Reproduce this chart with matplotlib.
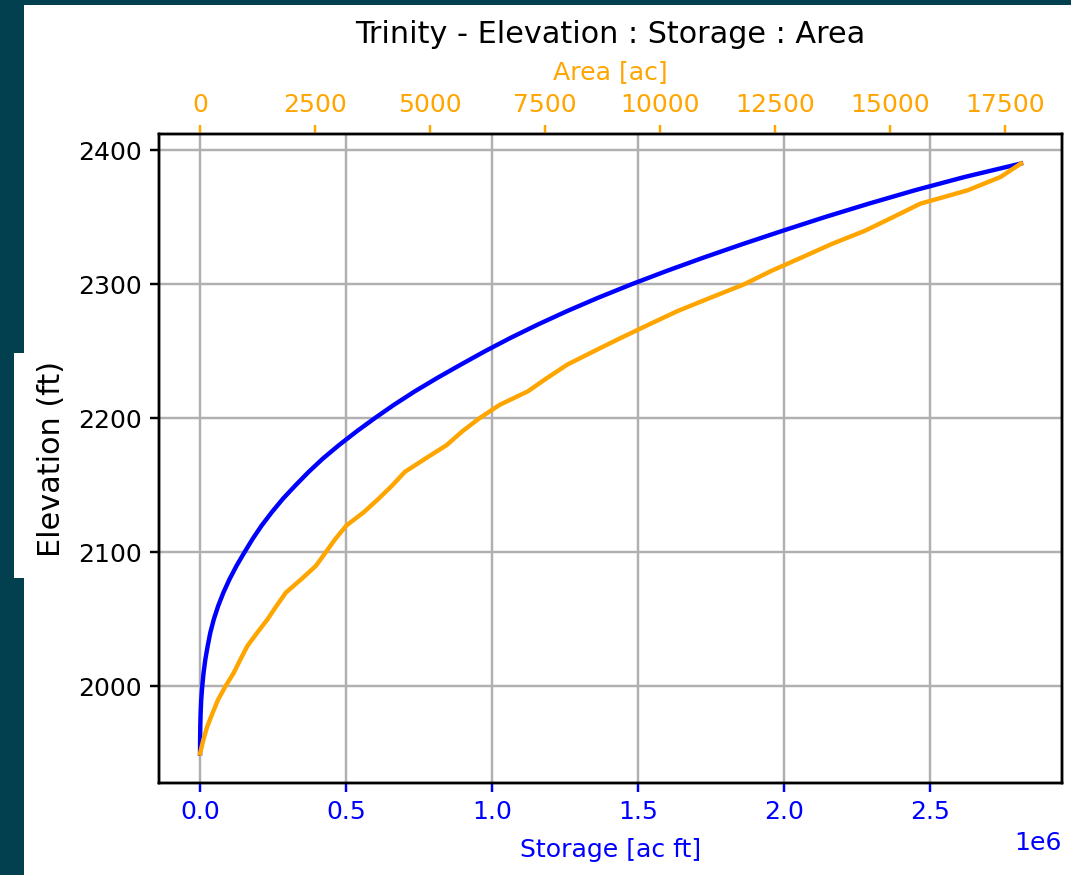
"""Trinity reservoir: elevation / storage / area curves"""

import matplotlib
matplotlib.use("Agg")
import matplotlib.pyplot as plt
from matplotlib.patches import Rectangle
import numpy as np

# elevation steps (ft)
elevation = [1950, 1960, 1970, 1980, 1990, 2000, 2010, 2020, 2030, 2040,
             2050, 2060, 2070, 2080, 2090, 2100, 2110, 2120, 2130, 2140,
             2150, 2160, 2170, 2180, 2190, 2200, 2210, 2220, 2230, 2240,
             2250, 2260, 2270, 2280, 2290, 2300, 2310, 2320, 2330, 2340,
             2350, 2360, 2370, 2380, 2390]

# storage (million ac ft)
storage_m = [0.0, 0.0002, 0.0008, 0.002, 0.004, 0.0075, 0.012, 0.018, 0.026, 0.035,
             0.047, 0.062, 0.080, 0.101, 0.125, 0.152, 0.180, 0.211, 0.246, 0.284,
             0.327, 0.372, 0.421, 0.476, 0.535, 0.598, 0.664, 0.735, 0.812, 0.893,
             0.976, 1.064, 1.158, 1.258, 1.365, 1.479, 1.600, 1.727, 1.860, 1.998,
             2.140, 2.290, 2.448, 2.620, 2.812]

# surface area (ac)
area = [0, 70, 155, 270, 390, 550, 730, 875, 1025, 1240,
        1465, 1660, 1865, 2200, 2520, 2730, 2940, 3180, 3560, 3880,
        4180, 4450, 4900, 5360, 5690, 6070, 6510, 7120, 7540, 7980,
        8560, 9150, 9760, 10380, 11100, 11830, 12420, 13080, 13730, 14460,
        15060, 15650, 16680, 17400, 17840]

W, H, DPI = 1071, 875, 176
bg = "#023f4f"

plt.rcParams["font.size"] = 10.3
plt.rcParams["axes.linewidth"] = 1.0
plt.rcParams["xtick.major.width"] = 1.0
plt.rcParams["ytick.major.width"] = 1.0

fig = plt.figure(figsize=(W / DPI, H / DPI), dpi=DPI, facecolor=bg)
# white screenshot area plus the little notch behind the y label
fig.patches.append(Rectangle((24 / W, 0), 1, 1 - 5 / H, transform=fig.transFigure,
                             facecolor="white", edgecolor="none", zorder=-2))
fig.patches.append(Rectangle((14 / W, 1 - 578 / H), 12 / W, 225 / H,
                             transform=fig.transFigure,
                             facecolor="white", edgecolor="none", zorder=-2))

ax = fig.add_axes([159 / W, 1 - 783 / H, (1062 - 159) / W, (783 - 134) / H])
ax.plot(np.array(storage_m) * 1e6, elevation, color="blue", lw=1.8)
ax.set_xlabel("Storage [ac ft]", color="blue", labelpad=5.5)
ax.set_ylabel("Elevation (ft)", fontsize=12.4, labelpad=5)
ax.tick_params(axis="x", colors="blue")
ax.xaxis.get_offset_text().set_color("blue")
ax.grid(True, lw=1.0)

ax2 = ax.twiny()
ax2.plot(area, elevation, color="orange", lw=1.8)
ax2.set_xlabel("Area [ac]", color="orange", labelpad=5.5)
ax2.tick_params(axis="x", colors="orange")

ax.set_title("Trinity - Elevation : Storage : Area", pad=7)

fig.savefig("out.png", dpi=DPI, facecolor=bg)
plt.close(fig)
